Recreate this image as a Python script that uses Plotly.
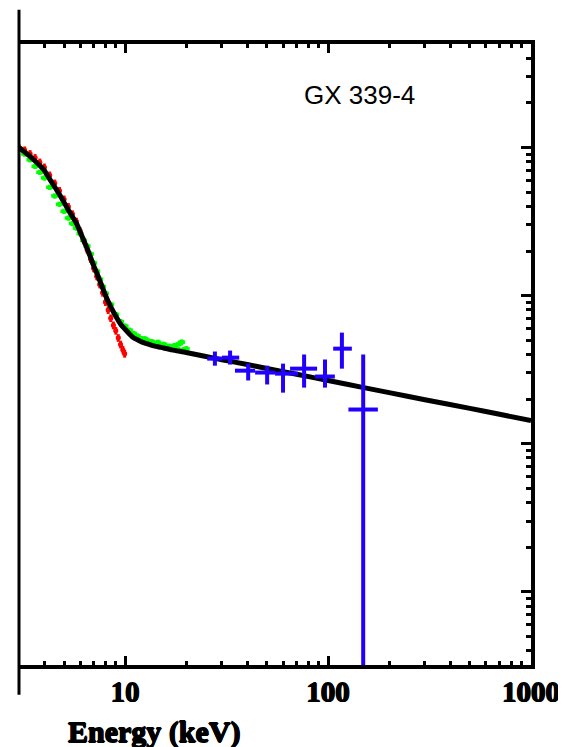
import math
import plotly.graph_objects as go

# ---------------- data ----------------
# best-fit model curve (energy keV, flux arbitrary units)
model_e = [3.0, 3.2, 3.4, 3.6, 3.8, 4.0, 4.25, 4.5, 4.75, 5.0, 5.25, 5.5, 5.75,
           6.0, 6.25, 6.5, 6.75, 7.0, 7.25, 7.5, 7.75, 8.0, 8.5, 9.0, 9.5, 10,
           10.5, 11, 11.5, 12, 13, 14, 15, 17, 20, 25, 30, 40, 50, 70, 100,
           150, 200, 300, 500, 700, 1000]
model_f = [1.000, 0.931, 0.871, 0.811, 0.756, 0.700, 0.612, 0.541, 0.481, 0.426,
           0.379, 0.341, 0.308, 0.270, 0.236, 0.208, 0.182, 0.1595, 0.1419,
           0.1263, 0.1125, 0.1006, 0.0838, 0.0724, 0.0641, 0.0592, 0.0551,
           0.0519, 0.0503, 0.0488, 0.0470, 0.0456, 0.0447, 0.0430, 0.0413,
           0.0388, 0.0369, 0.0342, 0.0322, 0.0294, 0.0267, 0.0239, 0.0221,
           0.0198, 0.0173, 0.0158, 0.0143]

# green instrument
green_e = [3.0, 3.2, 3.4, 3.6, 3.8, 4.0, 4.25, 4.5, 4.75, 5.0, 5.25, 5.5, 5.75,
           6.0, 6.25, 6.5, 6.75, 7.0, 7.25, 7.5, 7.75, 8.0, 8.5, 9.0, 9.5, 10,
           10.5, 11, 11.5, 12, 12.5, 13, 13.5, 14, 14.5, 15, 15.5, 16, 16.5,
           17, 17.5, 18, 18.5, 19, 19.5, 20]
green_f = [0.990, 0.903, 0.827, 0.746, 0.680, 0.623, 0.539, 0.471, 0.414, 0.371,
           0.334, 0.307, 0.286, 0.262, 0.236, 0.216, 0.191, 0.166, 0.146, 0.129,
           0.115, 0.1036, 0.0872, 0.0746, 0.0667, 0.0622, 0.0584, 0.0555,
           0.0533, 0.0512, 0.0511, 0.0494, 0.0490, 0.0474, 0.0484, 0.0465,
           0.0469, 0.0450, 0.0455, 0.0439, 0.0460, 0.0437, 0.0472, 0.0485,
           0.0432, 0.0438]

# red instrument
red_e = [3.0, 3.2, 3.4, 3.6, 3.8, 4.0, 4.25, 4.5, 4.75, 5.0, 5.25, 5.5, 5.75,
         6.0, 6.25, 6.5, 6.75, 7.0, 7.25, 7.5, 7.75, 8.0, 8.25, 8.5, 8.75,
         9.0, 9.25, 9.5, 9.75, 9.95]
red_f = [1.000, 0.959, 0.906, 0.852, 0.794, 0.735, 0.649, 0.573, 0.510, 0.447,
         0.398, 0.355, 0.317, 0.273, 0.236, 0.204, 0.177, 0.153, 0.135, 0.119,
         0.1046, 0.0905, 0.0799, 0.0704, 0.0630, 0.0579, 0.0518, 0.0468,
         0.0431, 0.0405]

# blue instrument (crosses: energy bin and flux range)
blue_e = [27.7, 32.9, 40.4, 50.1, 60.0, 76.2, 96.6, 117, 149]
blue_e_lo = [25.4, 30.0, 34.8, 43.7, 54.8, 65.0, 86.3, 106, 126]
blue_e_hi = [30.1, 36.5, 43.7, 54.8, 71.1, 88.3, 108, 131, 176]
blue_f = [0.0375, 0.0381, 0.0311, 0.0302, 0.0297, 0.0321, 0.0284, 0.0438, 0.0170]
blue_f_lo = [0.0336, 0.0342, 0.0267, 0.0251, 0.0221, 0.0239, 0.0239, 0.0321, 0.00001]
blue_f_hi = [0.0419, 0.0425, 0.0347, 0.0336, 0.0347, 0.0400, 0.0370, 0.0562, 0.0400]

x_ticks = [10, 100, 1000]
x_tick_text = ["10", "100", "1000"]
source_label = "GX 339-4"
x_title = "Energy (keV)"

# ---------------- figure ----------------
GREEN = "#00ff00"
RED = "#ff0000"
BLUE = "#2200ff"
HEAVY = "0.7px 0 0 #000, -0.7px 0 0 #000, 0 0.7px 0 #000, 0 -0.7px 0 #000"

fig = go.Figure()

fig.add_trace(go.Scatter(
    x=green_e, y=green_f, mode="markers",
    marker=dict(size=5, color=GREEN),
    error_x=dict(type="percent", value=4, color=GREEN, thickness=3.5, width=0),
    error_y=dict(type="percent", value=4, color=GREEN, thickness=3.5, width=0),
    hoverinfo="skip"))

fig.add_trace(go.Scatter(
    x=red_e, y=red_f, mode="markers",
    marker=dict(size=5, color=RED),
    error_x=dict(type="percent", value=2.5, color=RED, thickness=3, width=0),
    error_y=dict(type="percent", value=6, color=RED, thickness=3, width=0),
    hoverinfo="skip"))

fig.add_trace(go.Scatter(
    x=model_e, y=model_f, mode="lines",
    line=dict(color="black", width=5, shape="spline", smoothing=0.6),
    hoverinfo="skip"))

fig.add_trace(go.Scatter(
    x=blue_e, y=blue_f, mode="markers",
    marker=dict(size=1, color=BLUE),
    error_x=dict(type="data",
                 array=[h - v for h, v in zip(blue_e_hi, blue_e)],
                 arrayminus=[v - l for v, l in zip(blue_e, blue_e_lo)],
                 color=BLUE, thickness=4, width=0),
    error_y=dict(type="data",
                 array=[h - v for h, v in zip(blue_f_hi, blue_f)],
                 arrayminus=[v - l for v, l in zip(blue_f, blue_f_lo)],
                 color=BLUE, thickness=4, width=0),
    hoverinfo="skip"))

# the page body adds an 8 px offset at top/left, so the figure is shifted back
fig.update_layout(
    width=558, height=739,
    margin=dict(l=11, r=35, t=36, b=82),
    paper_bgcolor="white", plot_bgcolor="white",
    showlegend=False,
    xaxis=dict(
        type="log", range=[math.log10(3), 3], automargin=False,
        showline=True, linecolor="black", linewidth=3.5, mirror="ticks",
        ticks="inside", ticklen=9, tickwidth=3, tickcolor="black",
        tickvals=x_ticks, ticktext=x_tick_text,
        tickfont=dict(family="Liberation Serif", size=29, color="black",
                      weight="bold", shadow=HEAVY),
        ticklabelstandoff=-2,
        minor=dict(ticks="inside", ticklen=4, tickwidth=3, tickcolor="black",
                   dtick="D1", showgrid=False),
        showgrid=False, zeroline=False),
    yaxis=dict(
        type="log", range=[-3.495, 0.699], side="right", automargin=False,
        showline=True, linecolor="black", linewidth=3.5,
        ticks="inside", ticklen=10, tickwidth=3, tickcolor="black",
        dtick=1, showticklabels=False,
        minor=dict(ticks="inside", ticklen=5, tickwidth=3, tickcolor="black",
                   dtick="D1", showgrid=False),
        showgrid=False, zeroline=False),
    shapes=[dict(type="line", xref="paper", yref="paper",
                 x0=0, x1=0, y0=-0.048, y1=1.055,
                 line=dict(color="black", width=3))],
    annotations=[
        dict(text=source_label, xref="paper", yref="paper", x=0.666, y=0.918,
             showarrow=False, xanchor="center", yanchor="middle",
             font=dict(family="Liberation Sans", size=26, color="black")),
        dict(text=x_title, xref="paper", yref="paper", x=0.264, y=-0.108,
             showarrow=False, xanchor="center", yanchor="middle",
             font=dict(family="Liberation Serif", size=30, color="black",
                       weight="bold", shadow=HEAVY)),
    ],
)

fig.write_html("out.html")
